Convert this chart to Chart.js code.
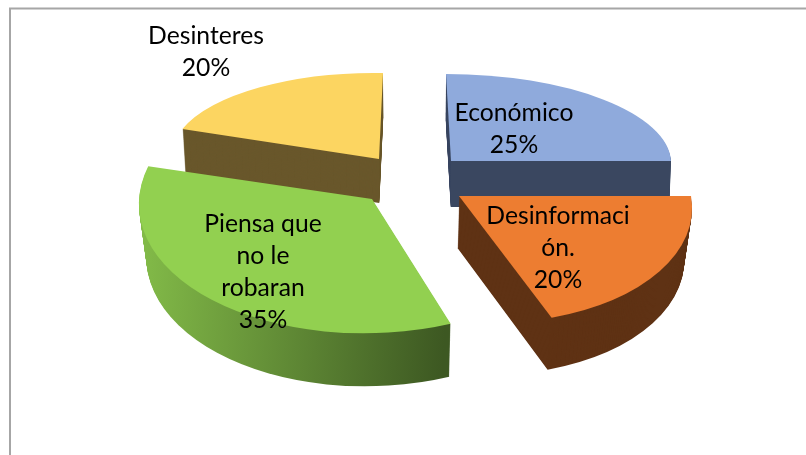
<!DOCTYPE html>
<html>
<head>
<meta charset="utf-8">
<style>html,body{margin:0;padding:0;background:#fff}canvas{display:block}</style>
<script src="https://cdn.jsdelivr.net/npm/chart.js@4/dist/chart.umd.min.js"></script>
</head>
<body>
<canvas id="c" width="806" height="455"></canvas>
<script>
// Data
const categories = ["Económico", "Desinformación.", "Piensa que no le robaran", "Desinteres"];
const shares = [25, 20, 35, 20];
// Wrapped label text as shown in the picture
const labelLines = [
  ["Económico", "25%"],
  ["Desinformaci", "ón.", "20%"],
  ["Piensa que", "no le", "robaran", "35%"],
  ["Desinteres", "20%"]
];
// Styles
const topColors = ["#8FAADC", "#ED7D31", "#92D050", "#FCD561"];
const sideColors = ["#3A4760", "#5F3214", null, "#69572B"];
const greenSideStops = ["#82BA48", "#3D5822"];
const greenSideSpan = [140, 447];
const labelCenters = [[514, 113], [558, 216], [263, 224], [206, 36]];
const labelLineHeight = 32;
// 3D look: per-slice projection of the pie plane onto the page
const apexes = [[451, 161], [459, 196], [372, 199], [379, 159]];
const xAxes = [[220, 0], [232, 0], [233, -9], [208, 3.6]];
const yAxes = [[5, 87], [22, 128], [7, 134], [-4, 86]];
const depths = [46, 52, 53, 44];
const bottomShrink = [0.006, 0.027, 0.028, 0.012];
const vanishX = 403;
const drawOrder = [3, 0, 2, 1];
const RADIUS = 100;

function withFill(el, fill, fn) {
  const saved = el.options;
  el.options = {
    offset: 0, spacing: 0, circular: true, borderWidth: 0, borderRadius: 0,
    borderAlign: "center", borderJoinStyle: "round", borderColor: fill,
    backgroundColor: fill, selfJoin: false
  };
  fn();
  el.options = saved;
}

const pie3d = {
  id: "pie3d",
  beforeDatasetsDraw(chart) {
    const ctx = chart.ctx, meta = chart.getDatasetMeta(0);
    const project = (i, step) => {
      const el = meta.data[i];
      const f = 1 - bottomShrink[i] * step / depths[i];
      ctx.translate(vanishX, 0);
      ctx.scale(f, 1);
      ctx.translate(-vanishX, step);
      ctx.translate(apexes[i][0], apexes[i][1]);
      ctx.transform(xAxes[i][0] / RADIUS, xAxes[i][1] / RADIUS, yAxes[i][0] / RADIUS, yAxes[i][1] / RADIUS, 0, 0);
      ctx.translate(-el.x, -el.y);
    };
    for (const i of drawOrder) {
      const el = meta.data[i];
      for (let step = depths[i]; step >= 1; step--) {
        ctx.save();
        project(i, step);
        let fill = sideColors[i];
        if (!fill) {
          const inv = ctx.getTransform().inverse();
          const a = inv.transformPoint(new DOMPoint(greenSideSpan[0], 300));
          const b = inv.transformPoint(new DOMPoint(greenSideSpan[1], 300));
          fill = ctx.createLinearGradient(a.x, a.y, b.x, b.y);
          fill.addColorStop(0, greenSideStops[0]);
          fill.addColorStop(1, greenSideStops[1]);
        }
        withFill(el, fill, () => el.draw(ctx));
        ctx.restore();
      }
      ctx.save();
      project(i, 0);
      withFill(el, topColors[i], () => el.draw(ctx));
      ctx.restore();
    }
    return false;
  },
  beforeDatasetDraw() { return false; },
  afterDraw(chart) {
    const ctx = chart.ctx;
    ctx.save();
    ctx.font = '24.7px Lato, "Open Sans", sans-serif';
    ctx.fillStyle = "#000";
    ctx.textAlign = "center";
    ctx.textBaseline = "middle";
    labelLines.forEach((lines, i) => {
      lines.forEach((t, k) => ctx.fillText(t, labelCenters[i][0], labelCenters[i][1] + k * labelLineHeight));
    });
    ctx.restore();
  },
  beforeDraw(chart) {
    const ctx = chart.ctx;
    ctx.save();
    ctx.fillStyle = "#fff";
    ctx.fillRect(0, 0, 806, 455);
    ctx.strokeStyle = "#A6A6A6";
    ctx.lineWidth = 2;
    ctx.beginPath();
    ctx.moveTo(10, 460);
    ctx.lineTo(10, 8.5);
    ctx.lineTo(806, 8.5);
    ctx.stroke();
    ctx.restore();
  }
};

new Chart(document.getElementById("c"), {
  type: "pie",
  data: {
    labels: categories,
    datasets: [{ data: shares, backgroundColor: topColors, borderWidth: 0 }]
  },
  options: {
    responsive: false,
    animation: false,
    radius: RADIUS,
    events: [],
    plugins: { legend: { display: false }, tooltip: { enabled: false }, title: { display: false } }
  },
  plugins: [pie3d]
});
</script>
</body>
</html>
